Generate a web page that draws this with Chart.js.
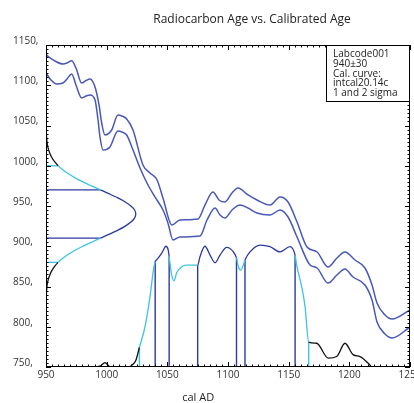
<!DOCTYPE html>
<html>
<head>
<meta charset="utf-8">
<script src="https://cdn.jsdelivr.net/npm/chart.js@4"></script>
<style>
  html, body { margin: 0; padding: 0; background: #fff; overflow: hidden; }
  canvas { display: block; }
</style>
</head>
<body>
<canvas id="calib-chart" width="430" height="403"></canvas>
<script>
// calibration curve, upper and lower edge (cal AD -> 14C age)
var upperYears = [950, 957.4, 964, 967.3, 971.2, 974.7, 979.4, 983, 986.3, 990.4, 993.7, 995.9, 998.6, 1004.1, 1009.3, 1012.6, 1016.5, 1021.7, 1029.9, 1035.7, 1041.5, 1046.4, 1053.8, 1060.4, 1075.3, 1081, 1087.6, 1092.6, 1097.5, 1103.3, 1108.2, 1116.5, 1123.9, 1134.6, 1142.9, 1149.5, 1156.9, 1165.1, 1173.4, 1182.4, 1189.8, 1196.4, 1204.7, 1212.9, 1218.7, 1222.8, 1229.4, 1235.2, 1250];
var upperAges  = [1137.6, 1130.1, 1126.4, 1127.6, 1130.5, 1121.4, 1102.8, 1105.9, 1107.8, 1097.8, 1075.5, 1053.1, 1038.2, 1044.4, 1063, 1061.8, 1058.1, 1044.4, 1001, 991, 982.3, 960, 926.4, 932.6, 933.9, 951.2, 967.4, 957.5, 955, 966.2, 972.4, 963.7, 957.5, 951.2, 961.2, 955, 930.1, 899.1, 892.9, 874.2, 885.4, 892.9, 882.9, 873, 851.9, 829.5, 814.6, 809.6, 820.8];
var lowerYears = [950, 954.1, 958.8, 964, 967.3, 971.2, 974.7, 979.4, 983, 986.3, 990.4, 992.9, 994.5, 997, 1002.7, 1009.3, 1012.6, 1016.5, 1021.7, 1027.5, 1033.2, 1039.8, 1046.4, 1050.5, 1054.7, 1060.4, 1076.9, 1082.7, 1089.3, 1093.4, 1097.5, 1103.3, 1109.9, 1116.5, 1123.9, 1134.6, 1142.9, 1149.5, 1156.9, 1167.6, 1173.4, 1182.4, 1189.8, 1196.4, 1203, 1212.9, 1218.7, 1222.8, 1229.4, 1235.2, 1250];
var lowerAges  = [1115.2, 1106.5, 1101.6, 1102.8, 1107.8, 1114, 1100.3, 1084.2, 1086.6, 1087.9, 1081.7, 1056.8, 1035.7, 1019.6, 1023.3, 1043.2, 1041.9, 1038.2, 1019.6, 997.2, 978.6, 961.2, 945, 928.9, 907.8, 911.5, 912.7, 932.6, 947.5, 938.8, 935.1, 945, 951.2, 947.5, 941.3, 938.8, 945, 936.3, 911.5, 876.7, 873, 854.3, 864.3, 871.7, 861.8, 851.9, 833.2, 805.9, 791, 786, 799.7];

// measured radiocarbon age 940 +- 30, its distribution drawn against the age axis
var rcAge = 940;
var rcSigma = 30;
var gaussAges  = [820, 825, 830, 835, 840, 845, 850, 855, 860, 865, 870, 875, 880, 885, 890, 895, 900, 905, 910, 915, 920, 925, 930, 935, 940, 945, 950, 955, 960, 965, 970, 975, 980, 985, 990, 995, 1000, 1005, 1010, 1015, 1020, 1025, 1030, 1035, 1040, 1045, 1050, 1055, 1060];
var gaussYears = [950, 950.1, 950.1, 950.2, 950.3, 950.5, 950.8, 951.3, 952.1, 953.3, 954.9, 957.1, 960, 963.8, 968.5, 974, 980.4, 987.5, 994.9, 1002.3, 1009.3, 1015.3, 1020, 1023, 1024, 1023, 1020, 1015.3, 1009.3, 1002.3, 994.9, 987.5, 980.4, 974, 968.5, 963.8, 960, 957.1, 954.9, 953.3, 952.1, 951.3, 950.8, 950.5, 950.3, 950.2, 950.1, 950.1, 950];

// calibrated probability, drawn along the cal AD axis
var densYears = [950, 990, 995, 998.6, 1002, 1005, 1018, 1021, 1024, 1027, 1031.6, 1035.7, 1038.5, 1040, 1041.2, 1045.4, 1048.9, 1050.8, 1051.5, 1053.6, 1055.5, 1057.7, 1061.8, 1066, 1075, 1076.9, 1081, 1085.2, 1089.3, 1093.4, 1098.9, 1104.4, 1107, 1108.5, 1110.5, 1112.6, 1114, 1118.1, 1126.4, 1134.6, 1142.9, 1151.1, 1155.3, 1156.6, 1160.7, 1163.5, 1166.5, 1173, 1182.7, 1189.6, 1196.4, 1203.3, 1208.8, 1217, 1218.5, 1250];
var densAges  = [750, 750, 751.5, 755.5, 751, 750, 750, 752.5, 758, 774.5, 800, 837, 870, 881, 883, 891.5, 900, 895, 887, 864, 857, 867, 874.5, 876.5, 876.5, 887, 900, 889, 879.5, 889, 898.5, 893, 885.5, 874.5, 870.5, 876.5, 883, 893, 901.5, 899.5, 893, 899.5, 889, 876.5, 850, 825, 781, 779.5, 761, 763, 779.5, 765, 763, 752.5, 750, 750];

// calibrated ranges
var oneSigmaBounds = [1040, 1051.5, 1075, 1107, 1114, 1155.3];
var oneSigmaTops   = [881, 887, 876.5, 885.5, 883, 889];
var twoSigmaBounds = [1027, 1166.5];
var twoSigmaTops   = [774.5, 781];

var legendLines = ['Labcode001', '940\u00b130', 'Cal. curve:', 'intcal20.14c', '1 and 2 sigma'];

var darkBlue = '#2c3a9c';
var cyan = '#3cc4e4';
var curveBlue = '#4858b8';
var black = '#111';

function toPoints(xs, ys) {
  return xs.map(function (x, i) { return { x: x, y: ys[i] }; });
}

function inOneSigma(year) {
  for (var i = 0; i < oneSigmaBounds.length; i += 2) {
    if (year >= oneSigmaBounds[i] && year <= oneSigmaBounds[i + 1]) return true;
  }
  return false;
}

function densColor(ctx) {
  var mid = (ctx.p0.parsed.x + ctx.p1.parsed.x) / 2;
  if (inOneSigma(mid)) return darkBlue;
  if (mid >= twoSigmaBounds[0] && mid <= twoSigmaBounds[1]) return cyan;
  return black;
}

function gaussColor(ctx) {
  var d = Math.abs((ctx.p0.parsed.y + ctx.p1.parsed.y) / 2 - rcAge);
  if (d <= rcSigma) return darkBlue;
  if (d <= 2 * rcSigma) return cyan;
  return black;
}

function gaussAt(age) {
  return gaussYears[gaussAges.indexOf(age)];
}

function lineSet(points, color, width) {
  return {
    data: points, borderColor: color, borderWidth: width || 1.3,
    pointRadius: 0, showLine: true, fill: false, tension: 0
  };
}

var datasets = [];
var upper = lineSet(toPoints(upperYears, upperAges), curveBlue, 1.5);
upper.cubicInterpolationMode = 'monotone';
var lower = lineSet(toPoints(lowerYears, lowerAges), curveBlue, 1.5);
lower.cubicInterpolationMode = 'monotone';
datasets.push(upper, lower);

var dens = lineSet(toPoints(densYears, densAges), black, 1.3);
dens.cubicInterpolationMode = 'monotone';
dens.segment = { borderColor: densColor };
datasets.push(dens);

var gauss = lineSet(toPoints(gaussYears, gaussAges), black, 1.3);
gauss.tension = 0.3;
gauss.segment = { borderColor: gaussColor };
datasets.push(gauss);

// horizontal sigma lines at the age axis
[rcAge - rcSigma, rcAge + rcSigma].forEach(function (a) {
  datasets.push(lineSet([{ x: 950, y: a }, { x: gaussAt(a), y: a }], darkBlue, 1.3));
});
[rcAge - 2 * rcSigma, rcAge + 2 * rcSigma].forEach(function (a) {
  datasets.push(lineSet([{ x: 950, y: a }, { x: gaussAt(a), y: a }], cyan, 1.3));
});

// vertical range lines on the calendar axis
oneSigmaBounds.forEach(function (b, i) {
  datasets.push(lineSet([{ x: b, y: 750 }, { x: b, y: oneSigmaTops[i] }], darkBlue, 1.4));
});
twoSigmaBounds.forEach(function (b, i) {
  datasets.push(lineSet([{ x: b, y: 750 }, { x: b, y: twoSigmaTops[i] }], cyan, 1.4));
});

// frame with inward ticks, legend box and titles
var framePlugin = {
  id: 'frame',
  afterDatasetsDraw: function (chart) {
    var c = chart.ctx, a = chart.chartArea;
    var xs = chart.scales.x, ys = chart.scales.y;
    c.save();
    c.strokeStyle = '#000';
    c.lineWidth = 1;
    c.strokeRect(a.left + 0.5, a.top + 0.5, a.right - a.left - 1, a.bottom - a.top - 1);
    c.beginPath();
    for (var v = 950; v <= 1250; v += 5) {
      var px = Math.round(xs.getPixelForValue(v)) + 0.5;
      var len = v % 50 === 0 ? 5 : 2.5;
      c.moveTo(px, a.bottom); c.lineTo(px, a.bottom - len);
      c.moveTo(px, a.top); c.lineTo(px, a.top + len);
    }
    for (var w = 750; w <= 1150; w += 5) {
      var py = Math.round(ys.getPixelForValue(w)) + 0.5;
      var l2 = w % 50 === 0 ? 5 : 2.5;
      c.moveTo(a.left, py); c.lineTo(a.left + l2, py);
      c.moveTo(a.right, py); c.lineTo(a.right - l2, py);
    }
    c.stroke();

    // info box in the top right corner
    var bw = 84, bh = 56;
    c.fillStyle = '#fff';
    c.fillRect(a.right - bw, a.top, bw, bh);
    c.strokeRect(a.right - bw + 0.5, a.top + 0.5, bw - 1, bh);
    c.fillStyle = '#222';
    c.font = '10px "Open Sans", sans-serif';
    c.textBaseline = 'middle';
    c.textAlign = 'left';
    legendLines.forEach(function (t, i) {
      c.fillText(t, a.right - bw + 7, a.top + 9.5 + i * 9.6);
    });

    c.fillStyle = '#222';
    c.textAlign = 'center';
    c.textBaseline = 'alphabetic';
    c.font = '12px "Open Sans", sans-serif';
    c.fillText('Radiocarbon Age vs. Calibrated Age', a.left + (a.right - a.left) * 0.566, 23);
    c.font = '11px "Open Sans", sans-serif';
    c.fillText('cal AD', a.left + (a.right - a.left) * 0.418, chart.height - 2);
    c.restore();
  }
};

window.onload = function () {
  var ctx = document.getElementById('calib-chart').getContext('2d');
  window.calibChart = new Chart(ctx, {
    type: 'scatter',
    data: { datasets: datasets },
    options: {
      responsive: false,
      animation: false,
      layout: { padding: { left: 13, top: 45, right: 20, bottom: 0 } },
      plugins: { legend: { display: false }, tooltip: { enabled: false }, title: { display: false } },
      scales: {
        x: {
          type: 'linear', min: 950, max: 1250,
          grid: { display: false, drawTicks: false },
          border: { display: false },
          ticks: {
            stepSize: 50, padding: 2, color: '#333',
            font: { family: 'Open Sans', size: 10 },
            callback: function (v) { return String(v); }
          },
          afterFit: function (s) { s.height = 36; }
        },
        y: {
          type: 'linear', min: 750, max: 1150,
          grid: { display: false, drawTicks: false },
          border: { display: false },
          ticks: {
            stepSize: 50, crossAlign: 'far', labelOffset: -4, color: '#333',
            font: { family: 'Open Sans', size: 10 },
            callback: function (v) { return v + ','; }
          },
          afterFit: function (s) { s.width = 33; }
        }
      }
    },
    plugins: [framePlugin]
  });
};
</script>
</body>
</html>
